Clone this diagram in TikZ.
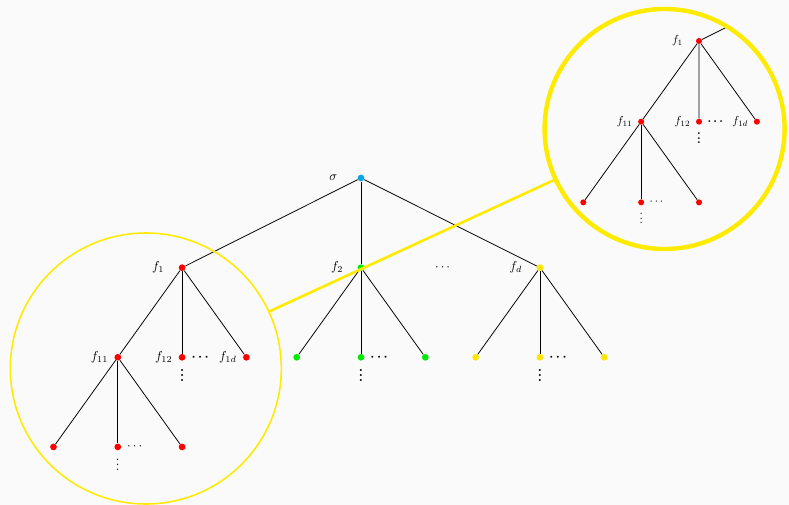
\documentclass[tikz,border=0pt]{standalone}
\usetikzlibrary{positioning}
\definecolor{bgcol}{RGB}{250,250,250}
\definecolor{rootblue}{RGB}{10,165,230}
\definecolor{fgreen}{RGB}{0,235,0}
\definecolor{fyellow}{RGB}{255,230,0}
\definecolor{lensyellow}{RGB}{255,235,0}
\newcommand{\vdotsb}{\vbox{\baselineskip4pt\lineskiplimit0pt\hbox{.}\hbox{.}\hbox{.}}}
\tikzset{
  vtx/.style={circle, fill=#1, inner sep=0pt, minimum size=5.2pt},
  edge/.style={line width=0.6pt},
  rootlbl/.style={label distance=12pt},
  toplbl/.style={label distance=7.5pt},
  lowlbl/.style={label distance=1.2pt},
  hdots/.style={label distance=3.3pt, inner sep=1pt},
  vdotslbl/.style={label distance=6.4pt, inner sep=0pt},
  boldlbl/.style={font=\bfseries\boldmath},
  lens/.style={circle, draw=lensyellow, inner sep=0pt},
}
% the branch below f_1
\newcommand{\drawbranch}[1]{%
  \node[vtx=red, label={[toplbl]left:$f_1$}] (#1f1) at (-4.87,-2.44) {};
  \node[vtx=red, label={[lowlbl]left:$f_{11}$}] (#1f11) at (-6.62,-4.88) {};
  \node[vtx=red, label={[lowlbl]left:$f_{12}$},
    label={[hdots,boldlbl]right:$\cdots$}, label={[vdotslbl,boldlbl]below:\vdotsb}] (#1f12) at (-4.87,-4.88) {};
  \node[vtx=red, label={[lowlbl]left:$f_{1d}$}] (#1f1d) at (-3.12,-4.88) {};
  \node[vtx=red] (#1f111) at (-8.37,-7.32) {};
  \node[vtx=red, label={[hdots]right:$\cdots$},
    label={[vdotslbl]below:\vdotsb}] (#1f112) at (-6.62,-7.32) {};
  \node[vtx=red] (#1f113) at (-4.87,-7.32) {};
  \foreach \a/\b in {f1/f11, f1/f12, f1/f1d, f11/f111, f11/f112, f11/f113}
    \draw[edge] (#1\a) -- (#1\b);
}
% the rest of the tree
\newcommand{\drawtree}[1]{%
  \node[vtx=rootblue, label={[rootlbl]left:$\sigma$}] (#1root) at (0,0) {};
  \drawbranch{#1}
  \node[vtx=fgreen, label={[toplbl]left:$f_2$}] (#1f2) at (0,-2.44) {};
  \node[vtx=fyellow, label={[toplbl]left:$f_d$}] (#1fd) at (4.87,-2.44) {};
  \node (#1gap) at (2.22,-2.44) {$\cdots$};
  \node[vtx=fgreen] (#1f21) at (-1.75,-4.88) {};
  \node[vtx=fgreen, label={[hdots,boldlbl]right:$\cdots$},
    label={[vdotslbl,boldlbl]below:\vdotsb}] (#1f22) at (0,-4.88) {};
  \node[vtx=fgreen] (#1f23) at (1.75,-4.88) {};
  \node[vtx=fyellow] (#1fd1) at (3.12,-4.88) {};
  \node[vtx=fyellow, label={[hdots,boldlbl]right:$\cdots$},
    label={[vdotslbl,boldlbl]below:\vdotsb}] (#1fd2) at (4.87,-4.88) {};
  \node[vtx=fyellow] (#1fd3) at (6.62,-4.88) {};
  \foreach \a/\b in {root/f1, root/f2, root/fd,
    f2/f21, f2/f22, f2/f23, fd/fd1, fd/fd2, fd/fd3}
    \draw[edge] (#1\a) -- (#1\b);
}

\begin{document}
\begin{tikzpicture}
    \fill[bgcol] (-9.826,-8.900) rectangle (11.649,4.845);
    \useasboundingbox (-9.826,-8.900) rectangle (11.649,4.845);
    \drawtree{m}
    \begin{scope}
        \clip (8.263,1.334) circle (3.266);
        \fill[bgcol] (8.263,1.334) circle (3.266);
        \begin{scope}[shift={(13.583,5.925)}, scale=0.9, transform shape]
            \drawbranch{z}
            \coordinate (zroot) at (0,0);
            \draw[edge] (zf1) -- (zroot);
        \end{scope}
    \end{scope}
    \node[lens, line width=1.2pt, minimum size=7.376cm] (lensspot) at (-5.857,-5.185) {};
    \node[lens, line width=3.4pt, minimum size=6.532cm] (lensview) at (8.263,1.334) {};
    \draw[lensyellow, line width=2pt] (lensspot) -- (lensview);
\end{tikzpicture}
\end{document}
